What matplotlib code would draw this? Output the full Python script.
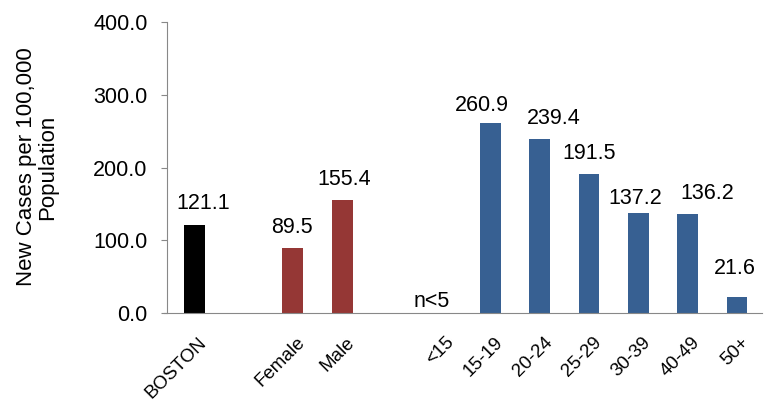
import numpy as np
import matplotlib.pyplot as plt
from matplotlib.transforms import ScaledTranslation

plt.rcParams['font.family'] = ['Liberation Sans', 'DejaVu Sans']

# chart data
labels = ['BOSTON', '', 'Female', 'Male', '', '<15', '15-19', '20-24', '25-29', '30-39', '40-49', '50+']
values = [121.1, np.nan, 89.5, 155.4, np.nan, 0, 260.9, 239.4, 191.5, 137.2, 136.2, 21.6]
value_text = ['121.1', '', '89.5', '155.4', '', 'n<5', '260.9', '239.4', '191.5', '137.2', '136.2', '21.6']
colors = ['#000000', 'none', '#953735', '#953735', 'none', '#376092',
          '#376092', '#376092', '#376092', '#376092', '#376092', '#376092']

# hand-placed label offsets from the original (pixels: sideways, gap above bar)
label_dx = [9, 0, -1, 1.5, 0, -9.5, -8.5, 14, 0, -3, 20, -2]
label_gap = [16, 0, 15, 15, 0, 6, 12, 15, 15, 9, 15, 23]

fig = plt.figure(figsize=(7.64, 4.03), dpi=100)
ax = fig.add_axes([0.2186, 0.2233, 0.7784, 0.7221])

x = np.arange(len(labels))
ax.bar(x, np.nan_to_num(values), width=0.42, color=colors)

# value labels above bars
for xi, v, t, dx, gap in zip(x, values, value_text, label_dx, label_gap):
    if t:
        ax.annotate(t, (xi, v), xytext=(dx * 0.72, gap * 0.72), textcoords='offset points',
                    ha='center', va='baseline', fontsize=15.5)

ax.set_xlim(-0.55, 11.5)
ax.set_ylim(0, 400)
ax.set_yticks([0, 100, 200, 300, 400])
ax.set_yticklabels(['%.1f' % v for v in [0, 100, 200, 300, 400]], fontsize=15.5)
ax.set_xticks([i for i in x if labels[i]])
ax.set_xticklabels([l for l in labels if l], rotation=45, ha='right', va='top',
                   rotation_mode='anchor', fontsize=13.5)
ax.tick_params(axis='x', length=0, pad=15)
ax.tick_params(axis='y', length=4, color='#888888', pad=10)

# nudge rotated labels so they end right under the bars
shift = ScaledTranslation(4 / 100, 0, fig.dpi_scale_trans)
for lab in ax.get_xticklabels():
    lab.set_transform(lab.get_transform() + shift)

for s in ['top', 'right']:
    ax.spines[s].set_visible(False)
ax.spines['left'].set_color('#888888')
ax.spines['bottom'].set_color('#888888')
ax.spines['bottom'].set_bounds(-0.62, 11.5)

fig.text(37 / 764, 1 - 167 / 403, 'New Cases per 100,000\nPopulation', rotation=90,
         ha='center', va='center', fontsize=16, linespacing=1.0)

fig.savefig('out.png', dpi=100)
